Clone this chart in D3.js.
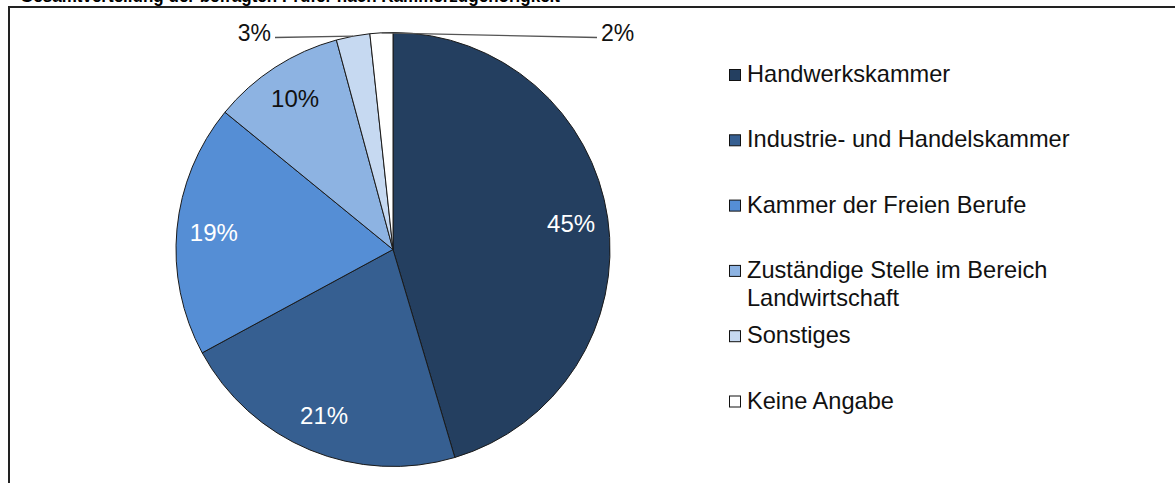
<!DOCTYPE html>
<html><head><meta charset="utf-8">
<script src="https://cdn.jsdelivr.net/npm/d3@7"></script>
<style>html,body{margin:0;padding:0;background:#fff;}svg{display:block;}</style>
</head><body>
<svg id="c" width="1175" height="483"></svg>
<script>
const categories = ["Handwerkskammer","Industrie- und Handelskammer","Kammer der Freien Berufe","Zuständige Stelle im Bereich Landwirtschaft","Sonstiges","Keine Angabe"];
const legendLines = [["Handwerkskammer"],["Industrie- und Handelskammer"],["Kammer der Freien Berufe"],["Zuständige Stelle im Bereich","Landwirtschaft"],["Sonstiges"],["Keine Angabe"]];
const values = [45.4, 21.7, 18.8, 9.9, 2.5, 1.7];
const valueLabels = ["45%","21%","19%","10%","3%","2%"];
const colors = ["#243F60","#365F91","#558ED5","#8DB3E2","#C6D9F1","#FFFFFF"];
const labelColors = ["#fff","#fff","#fff","#111","#111","#111"];
const outside = [false,false,false,false,true,true];

const svg = d3.select("#c");
const font = "'Liberation Sans', Arial, sans-serif";

// cut-off title (only its lower edge is visible in the reference)
svg.append("text").attr("x",20).attr("y",2)
  .attr("font-family","'Liberation Sans', Arial, sans-serif").attr("font-weight","bold")
  .attr("font-size",19).attr("fill","#000")
  .attr("textLength",540).attr("lengthAdjust","spacingAndGlyphs")
  .text("Gesamtverteilung der befragten Prüfer nach Kammerzugehörigkeit");

// frame
svg.append("path").attr("d","M9,483 L9,7 L1175,7").attr("fill","none")
  .attr("stroke","#222").attr("stroke-width",2);

const cx = 393, cy = 249.5, R = 217;
const g = svg.append("g").attr("transform",`translate(${cx},${cy})`);
const pie = d3.pie().sort(null).value(d=>d)(values);
const arc = d3.arc().innerRadius(0).outerRadius(R);
const labelArc = d3.arc().innerRadius(180).outerRadius(180);

g.selectAll("path.slice").data(pie).join("path")
  .attr("class","slice").attr("d",arc)
  .attr("fill",(d,i)=>colors[i]).attr("stroke","#1a1a1a").attr("stroke-width",1);

// inside labels
g.selectAll("text.in").data(pie.filter((d,i)=>!outside[i])).join("text")
  .attr("class","in")
  .attr("transform",d=>{const c=labelArc.centroid(d);return `translate(${c[0]},${c[1]})`;})
  .attr("text-anchor","middle").attr("dy","0.36em")
  .attr("font-family",font).attr("font-size",24)
  .attr("fill",d=>labelColors[d.index])
  .text(d=>valueLabels[d.index]);

// outside labels with leader lines
const outerPt = d3.arc().innerRadius(R).outerRadius(R);
const outsideX = {4:-118, 5:204};
pie.filter((d,i)=>outside[i]).forEach(d=>{
  const p = outerPt.centroid(d);
  const ex = outsideX[d.index], ey = -212;
  g.append("line").attr("x1",p[0]).attr("y1",p[1]).attr("x2",ex).attr("y2",ey)
    .attr("stroke","#555").attr("stroke-width",1.3);
  const left = ex < 0;
  g.append("text").attr("x", left ? ex-4 : ex+4).attr("y", ey+3)
    .attr("text-anchor", left ? "end" : "start")
    .attr("font-family",font).attr("font-size",23).attr("fill","#111")
    .text(valueLabels[d.index]);
});

// legend
const lg = svg.append("g");
legendLines.forEach((lines,i)=>{
  const by = 82 + i*65.3;
  lg.append("rect").attr("x",729.5).attr("y",by-12.5).attr("width",11).attr("height",11)
    .attr("fill",colors[i]).attr("stroke","#111").attr("stroke-width",1);
  const t = lg.append("text").attr("x",747).attr("y",by)
    .attr("font-family",font).attr("font-size",23.6).attr("fill","#111");
  lines.forEach((ln,j)=>{
    t.append("tspan").attr("x",747).attr("y",by + j*28.3).text(ln);
  });
});
</script>
</body></html>
